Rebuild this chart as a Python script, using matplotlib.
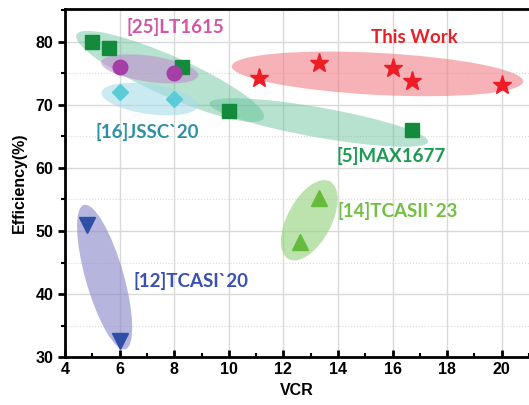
import matplotlib.pyplot as plt
from matplotlib.patches import Ellipse
from matplotlib.transforms import ScaledTranslation
from matplotlib.ticker import MultipleLocator

# [5]MAX1677
max_vcr = [5.0, 5.6, 8.3, 10.0, 16.7]
max_eff = [80.0, 79.0, 76.0, 69.0, 66.0]
# [25]LT1615
lt_vcr = [6.0, 8.0]
lt_eff = [76.0, 75.0]
# [16]JSSC`20
jssc_vcr = [6.0, 8.0]
jssc_eff = [72.0, 71.0]
# This Work
work_vcr = [11.1, 13.3, 16.0, 16.7, 20.0]
work_eff = [74.2, 76.7, 75.8, 73.8, 73.2]
# [14]TCASII`23
tcas2_vcr = [12.6, 13.3]
tcas2_eff = [48.3, 55.3]
# [12]TCASI`20
tcas1_vcr = [4.8, 6.0]
tcas1_eff = [51.0, 32.5]

fig = plt.figure(figsize=(5.29, 4.05), dpi=100)
ax = fig.add_axes([0.123, 0.118, 0.877, 0.86])
ax.set_xlim(4, 21)
ax.set_ylim(30, 85.2)


def blob(cx, cy, w, h, angle, color, alpha):
    # ellipse sized in inches, anchored at a data point
    tr = fig.dpi_scale_trans + ScaledTranslation(cx, cy, ax.transData)
    e = Ellipse((0, 0), w, h, angle=angle, transform=tr,
                facecolor=color, edgecolor='none', alpha=alpha, zorder=2)
    ax.add_patch(e)


blob(7.85, 74.5, 2.05, 0.40, -24, '#5fbf95', 0.45)
blob(13.3, 67.2, 2.22, 0.30, -10, '#5fbf95', 0.45)
blob(15.45, 74.9, 2.92, 0.42, -3, '#f07f86', 0.6)
blob(7.1, 75.7, 0.98, 0.26, -8, '#c08ad0', 0.55)
blob(7.1, 70.9, 0.97, 0.30, -8, '#a8dcea', 0.6)
blob(5.45, 42.7, 1.50, 0.38, -74, '#8585c8', 0.6)
blob(12.95, 51.7, 0.88, 0.44, 62, '#90cf78', 0.6)

ax.plot(max_vcr, max_eff, 's', color='#138a3c', ms=9.5, zorder=4)
ax.plot(lt_vcr, lt_eff, 'o', color='#a53fa5', ms=10.5, zorder=4)
ax.plot(jssc_vcr, jssc_eff, 'D', color='#5ccbd8', ms=8, zorder=4)
ax.plot(work_vcr, work_eff, '*', color='#ee1c25', ms=14, zorder=4)
ax.plot(tcas2_vcr, tcas2_eff, '^', color='#66bb3c', ms=11, zorder=4)
ax.plot(tcas1_vcr, tcas1_eff, 'v', color='#2f4fa6', ms=11, zorder=4)

lab = dict(fontsize=13.5, fontweight='bold', family='Lato',
           ha='center', va='center', zorder=5)
ax.text(8.05, 82.3, '[25]LT1615', color='#d455a6', **lab)
ax.text(16.8, 80.6, 'This Work', color='#e8202a', **lab)
ax.text(7.0, 65.7, '[16]JSSC`20', color='#2e8fa8', **lab)
ax.text(15.95, 61.9, '[5]MAX1677', color='#1b9a52', **lab)
ax.text(16.2, 53.1, '[14]TCASII`23', color='#72c043', **lab)
ax.text(8.6, 42.0, '[12]TCASI`20', color='#3a50b0', **lab)

ax.xaxis.set_major_locator(MultipleLocator(2))
ax.xaxis.set_minor_locator(MultipleLocator(1))
ax.yaxis.set_major_locator(MultipleLocator(10))
ax.yaxis.set_minor_locator(MultipleLocator(5))
ax.grid(which='major', color='#d9d9d9', lw=1, zorder=0)
ax.grid(which='minor', axis='y', color='#d9d9d9', lw=0.8, ls=':', zorder=0)
ax.set_axisbelow(True)

ax.tick_params(axis='x', which='major', direction='in', length=5, width=2)
ax.tick_params(axis='x', which='minor', direction='in', length=3, width=1.5)
ax.tick_params(axis='y', which='major', direction='out', length=5, width=2)
ax.tick_params(axis='y', which='minor', direction='out', length=3, width=1.5)
for t in ax.get_xticklabels() + ax.get_yticklabels():
    t.set_fontweight('bold')
    t.set_fontsize(11.5)
    t.set_family('Liberation Sans')

for s in ['left', 'bottom', 'top']:
    ax.spines[s].set_linewidth(2)
ax.spines['right'].set_visible(False)

ax.set_xlabel('VCR', fontsize=11.5, fontweight='bold', family='Liberation Sans', labelpad=4)
ax.set_ylabel('Efficiency(%)', fontsize=11.5, fontweight='bold', family='Liberation Sans', labelpad=6)

fig.savefig('out.png', dpi=100)
